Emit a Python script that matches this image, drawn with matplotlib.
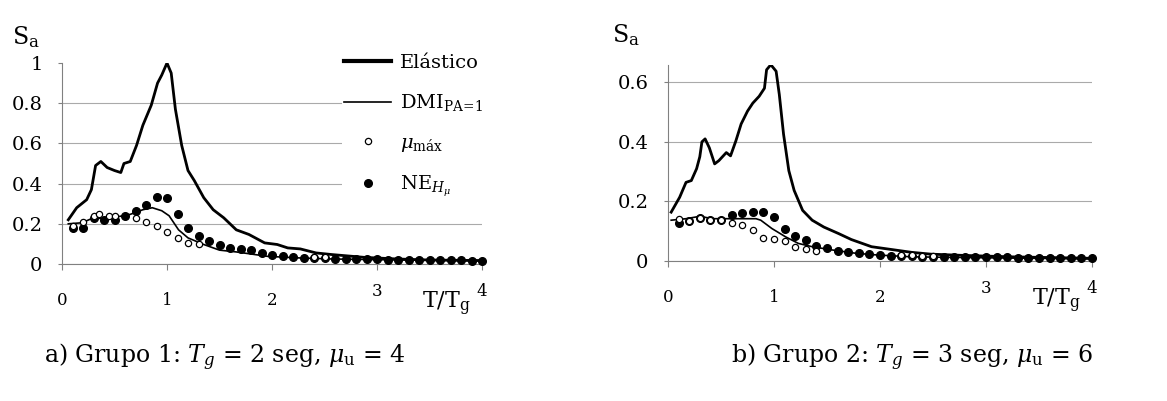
import matplotlib
matplotlib.use("Agg")
import matplotlib.pyplot as plt
from matplotlib.transforms import ScaledTranslation

plt.rcParams['font.family'] = ['DejaVu Serif']
plt.rcParams['mathtext.fontset'] = 'dejavuserif'

# ---- Grupo 1 (a) ----
a_el_x = [0.06, 0.14, 0.235, 0.28, 0.32, 0.37, 0.43, 0.50, 0.56, 0.59, 0.65, 0.71, 0.77,
          0.85, 0.91, 0.95, 1.0, 1.04, 1.08, 1.14, 1.20, 1.26, 1.35, 1.44, 1.54, 1.66,
          1.78, 1.93, 2.05, 2.15, 2.27, 2.42, 2.57, 2.88, 3.19, 3.49, 4.0]
a_el_y = [0.22, 0.28, 0.32, 0.37, 0.49, 0.51, 0.48, 0.465, 0.455, 0.50, 0.51, 0.59, 0.69,
          0.79, 0.90, 0.94, 1.0, 0.95, 0.77, 0.59, 0.465, 0.415, 0.33, 0.27, 0.23, 0.17,
          0.147, 0.105, 0.097, 0.08, 0.075, 0.055, 0.047, 0.033, 0.025, 0.02, 0.017]

a_dmi_x = [0.06, 0.19, 0.30, 0.40, 0.53, 0.65, 0.77, 0.86, 0.95, 1.02, 1.11, 1.20, 1.35,
           1.50, 1.66, 1.96, 2.27, 2.57, 3.19, 4.0]
a_dmi_y = [0.20, 0.205, 0.23, 0.225, 0.235, 0.247, 0.27, 0.28, 0.265, 0.24, 0.17, 0.13,
           0.097, 0.069, 0.06, 0.038, 0.03, 0.025, 0.02, 0.017]

a_mu_x = [0.1, 0.2, 0.3, 0.35, 0.45, 0.5, 0.7, 0.8, 0.9, 1.0, 1.1, 1.2, 1.3, 2.4, 2.5]
a_mu_y = [0.19, 0.21, 0.24, 0.25, 0.24, 0.24, 0.23, 0.21, 0.19, 0.16, 0.127, 0.105, 0.10,
          0.035, 0.035]

a_ne_x = [0.1, 0.2, 0.3, 0.4, 0.5, 0.6, 0.7, 0.8, 0.9, 1.0, 1.1, 1.2, 1.3, 1.4, 1.5, 1.6,
          1.7, 1.8, 1.9, 2.0, 2.1, 2.2, 2.3, 2.4, 2.5, 2.6, 2.7, 2.8, 2.9, 3.0, 3.1, 3.2,
          3.3, 3.4, 3.5, 3.6, 3.7, 3.8, 3.9, 4.0]
a_ne_y = [0.18, 0.18, 0.23, 0.22, 0.22, 0.24, 0.264, 0.295, 0.335, 0.326, 0.247, 0.18,
          0.14, 0.114, 0.094, 0.08, 0.075, 0.069, 0.055, 0.047, 0.042, 0.033, 0.03, 0.03,
          0.028, 0.027, 0.026, 0.025, 0.024, 0.023, 0.022, 0.021, 0.02, 0.02, 0.019,
          0.019, 0.018, 0.018, 0.017, 0.017]

# ---- Grupo 2 (b) ----
b_el_x = [0.03, 0.11, 0.17, 0.22, 0.27, 0.30, 0.32, 0.35, 0.39, 0.44, 0.48, 0.55, 0.59,
          0.64, 0.69, 0.75, 0.80, 0.86, 0.91, 0.93, 0.97, 1.02, 1.05, 1.09, 1.14, 1.19,
          1.27, 1.36, 1.47, 1.61, 1.73, 1.92, 2.14, 2.30, 2.48, 2.77, 3.23, 4.0]
b_el_y = [0.164, 0.214, 0.264, 0.27, 0.31, 0.35, 0.40, 0.41, 0.38, 0.326, 0.337, 0.364,
          0.353, 0.403, 0.46, 0.503, 0.53, 0.553, 0.58, 0.642, 0.659, 0.637, 0.559, 0.426,
          0.303, 0.237, 0.17, 0.137, 0.114, 0.092, 0.072, 0.048, 0.037, 0.029, 0.023,
          0.019, 0.014, 0.009]

b_dmi_x = [0.03, 0.17, 0.30, 0.42, 0.58, 0.83, 0.875, 0.98, 1.11, 1.23, 1.36, 1.55, 1.77,
           1.98, 2.30, 2.92, 4.0]
b_dmi_y = [0.137, 0.142, 0.15, 0.142, 0.142, 0.142, 0.137, 0.109, 0.081, 0.059, 0.048,
           0.037, 0.026, 0.02, 0.014, 0.011, 0.007]

b_mu_x = [0.1, 0.2, 0.3, 0.4, 0.5, 0.6, 0.7, 0.8, 0.9, 1.0, 1.1, 1.2, 1.3, 1.4, 2.2, 2.3,
          2.4, 2.5]
b_mu_y = [0.14, 0.134, 0.146, 0.137, 0.137, 0.128, 0.12, 0.103, 0.078, 0.073, 0.068,
          0.046, 0.04, 0.034, 0.02, 0.02, 0.018, 0.018]

b_ne_x = a_ne_x
b_ne_y = [0.129, 0.133, 0.146, 0.137, 0.139, 0.156, 0.162, 0.164, 0.164, 0.148, 0.106,
          0.083, 0.07, 0.05, 0.042, 0.034, 0.029, 0.026, 0.023, 0.02, 0.017, 0.016,
          0.016, 0.015, 0.015, 0.014, 0.014, 0.013, 0.013, 0.012, 0.012, 0.012, 0.011,
          0.011, 0.011, 0.01, 0.01, 0.01, 0.009, 0.009]

xticks = [0, 1, 2, 3, 4]
a_yticks = [0, 0.2, 0.4, 0.6, 0.8, 1]
a_ylabels = ['0', '0.2', '0.4', '0.6', '0.8', '1']
b_yticks = [0, 0.2, 0.4, 0.6]
b_ylabels = ['0', '0.2', '0.4', '0.6']

W, H = 1167, 401
fig = plt.figure(figsize=(W / 100, H / 100), dpi=100)

ax1 = fig.add_axes([62 / W, (H - 264) / H, 420 / W, 201 / H])
ax2 = fig.add_axes([668 / W, (H - 261) / H, 424 / W, 196 / H])

gray = '#808080'


def style(ax, ytop, yticks, ylabels):
    ax.set_xlim(0, 4)
    ax.set_ylim(0, ytop)
    for s in ['top', 'right']:
        ax.spines[s].set_visible(False)
    for s in ['left', 'bottom']:
        ax.spines[s].set_color(gray)
        ax.spines[s].set_linewidth(0.8)
    ax.set_xticks(xticks)
    ax.set_xticklabels([str(t) for t in xticks])
    ax.set_yticks(yticks)
    ax.set_yticklabels(ylabels)
    ax.tick_params(axis='x', length=4, width=0.8, color=gray, pad=16, labelsize=12)
    ax.tick_params(axis='y', length=3, width=0.8, color=gray, pad=11, labelsize=14)
    ax.yaxis.grid(True, color='#aaaaaa', linewidth=0.8)
    ax.set_axisbelow(True)
    # the highest tick has no grid line
    if yticks[-1] >= ytop - 1e-6:
        ax.get_ygridlines()[-1].set_visible(False)
    # tick labels 3 and 4 sit a little higher
    for lab in ax.get_xticklabels()[3:]:
        lab.set_transform(lab.get_transform() + ScaledTranslation(0, 6 / 72, fig.dpi_scale_trans))
    ax.annotate(r'T/T$_{\rm g}$', xy=(3.66, 0), xycoords=('data', 'axes fraction'),
                xytext=(0, -29), textcoords='offset points', ha='center', va='center',
                fontsize=16)


def draw(ax, elx, ely, dmx, dmy, mux, muy, nex, ney):
    h1, = ax.plot(elx, ely, color='black', lw=2.0, label='Elástico', zorder=3)
    h2, = ax.plot(dmx, dmy, color='black', lw=1.2, label=r'DMI$_{\rm PA\!=\!1}$', zorder=3)
    h4, = ax.plot(nex, ney, 'o', color='black', ms=5.5, label=r'NE$_{H_{\mu}}$', zorder=4,
                  clip_on=False)
    h3, = ax.plot(mux, muy, 'o', mfc='white', mec='black', mew=0.9, ms=4.5,
                  label=r'$\mu_{\rm máx}$', zorder=5)
    return [h1, h2, h3, h4]


handles = draw(ax1, a_el_x, a_el_y, a_dmi_x, a_dmi_y, a_mu_x, a_mu_y, a_ne_x, a_ne_y)
draw(ax2, b_el_x, b_el_y, b_dmi_x, b_dmi_y, b_mu_x, b_mu_y, b_ne_x, b_ne_y)

style(ax1, 1.0, a_yticks, a_ylabels)
style(ax2, 0.658, b_yticks, b_ylabels)

leg = ax1.legend(handles=handles, loc='upper left', bbox_to_anchor=(2.67, 1.055),
                 bbox_transform=ax1.transData, fontsize=14, frameon=True,
                 handlelength=2.4, handletextpad=0.45, labelspacing=1.05,
                 borderpad=0.1, borderaxespad=0)
leg.get_frame().set_facecolor('white')
leg.get_frame().set_edgecolor('none')
leg.get_frame().set_alpha(1)
leg.get_lines()[0].set_linewidth(3)

fig.text(12 / W, 1 - 44 / H, r'S$_{\rm a}$', fontsize=17, ha='left', va='baseline')
fig.text(612 / W, 1 - 42 / H, r'S$_{\rm a}$', fontsize=17, ha='left', va='baseline')

fig.text(225 / W, 1 - 357 / H, r'a) Grupo 1: $T_g$ = 2 seg, $\mu_{\rm u}$ = 4',
         fontsize=17, ha='center', va='center')
fig.text(912 / W, 1 - 357 / H, r'b) Grupo 2: $T_g$ = 3 seg, $\mu_{\rm u}$ = 6',
         fontsize=17, ha='center', va='center')

fig.savefig('out.png', dpi=100)
